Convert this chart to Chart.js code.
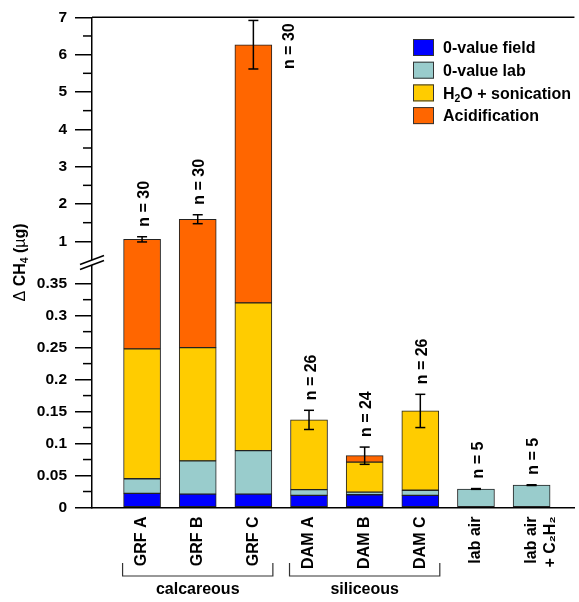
<!DOCTYPE html>
<html>
<head>
  <meta charset="utf-8" />
  <title>Δ CH4</title>
  <style>body { margin: 0; background: #fff; }</style>
</head>
<body>
  <canvas id="stage" width="579" height="602"></canvas>

  <script src="https://cdn.jsdelivr.net/npm/chart.js@4.4.0/dist/chart.umd.min.js"></script>
  <script>
    // 値 (µg) — 各区分の増分
    const categories = ['GRF A', 'GRF B', 'GRF C', 'DAM A', 'DAM B', 'DAM C', 'lab air', ['lab air', '+ C₂H₂']];
    const fieldVals = [0.022, 0.021, 0.021, 0.019, 0.020, 0.019, null, null];
    const labVals   = [0.023, 0.052, 0.068, 0.009, 0.004, 0.008, 0.029, 0.035];
    const h2oVals   = [0.203, 0.177, 0.231, 0.109, 0.047, 0.124, null, null];
    const acidVals  = [0.806, 1.343, 5.946, null, 0.010, null, null, null];
    const errVals   = [0.07, 0.12, 0.65, 0.015, 0.0135, 0.026, 0.0006, 0.0006];
    const nLabels   = ['n = 30', 'n = 30', 'n = 30', 'n = 26', 'n = 24', 'n = 26', 'n = 5', 'n = 5'];
    const groups    = [{ label: 'calcareous', from: 0, to: 2 }, { label: 'siliceous', from: 3, to: 5 }];
    const majorTicks = [0, 0.05, 0.1, 0.15, 0.2, 0.25, 0.3, 0.35, 1, 2, 3, 4, 5, 6, 7];
    const minorTicks = [0.025, 0.075, 0.125, 0.175, 0.225, 0.275, 0.325, 1.5, 2.5, 3.5, 4.5, 5.5, 6.5];
    const yTitle = 'Δ CH₄ (µg)';

    const FAMILY = '"Liberation Sans", Arial, sans-serif';
    const FS = 16;

    // 軸を途中で切った縦軸
    const LinearScale = Chart.LinearScale || Chart.registry.getScale('linear');
    class BrokenScale extends LinearScale {
      buildTicks() {
        return majorTicks.concat(minorTicks).sort((a, b) => a - b).map(v => ({ value: v }));
      }
      getPixelForValue(v) {
        if (v === null || isNaN(v)) return NaN;
        const bv = this.options.breakValue, bf = this.options.breakFrac;
        let d;
        if (v <= bv) d = (v - this.min) / (bv - this.min) * bf;
        else d = bf + (v - bv) / (this.max - bv) * (1 - bf);
        return this.getPixelForDecimal(d);
      }
      getValueForPixel(p) {
        const bv = this.options.breakValue, bf = this.options.breakFrac;
        const d = this.getDecimalForPixel(p);
        if (d <= bf) return this.min + d / bf * (bv - this.min);
        return bv + (d - bf) / (1 - bf) * (this.max - bv);
      }
    }
    BrokenScale.id = 'broken';
    BrokenScale.defaults = LinearScale.defaults;
    Chart.register(BrokenScale);

    // 下付き数字を小さく描く
    function drawRich(ctx, text, x, y, size, measureOnly) {
      let cx = x;
      for (const ch of text) {
        const code = ch.charCodeAt(0);
        const sub = code >= 0x2080 && code <= 0x2089;
        const c = sub ? String.fromCharCode(code - 0x2080 + 48) : ch;
        const thin = 'Δµ'.includes(ch);
        ctx.font = (thin ? '' : 'bold ') + (sub ? size * 0.65 : size) + 'px ' + FAMILY;
        if (!measureOnly) ctx.fillText(c, cx, sub ? y + size * 0.22 : y);
        cx += ctx.measureText(c).width;
      }
      return cx - x;
    }

    function line(ctx, x1, y1, x2, y2) {
      ctx.beginPath();
      ctx.moveTo(x1, y1);
      ctx.lineTo(x2, y2);
      ctx.stroke();
    }

    const decor = {
      id: 'decor',
      afterDraw(chart) {
        const { ctx, chartArea: a, scales: { x, y } } = chart;
        const sets = chart.data.datasets;
        ctx.save();
        ctx.strokeStyle = '#000';
        ctx.fillStyle = '#000';
        ctx.lineWidth = 1.5;

        // 上枠
        line(ctx, a.left, a.top, a.right, a.top);

        // 補助目盛
        minorTicks.forEach(v => {
          const py = y.getPixelForValue(v);
          line(ctx, a.left - 9, py, a.left, py);
        });

        // 軸の切れ目
        const cy = y.getPixelForValue(y.options.breakValue) - 2;
        ctx.fillStyle = '#fff';
        ctx.fillRect(a.left - 2, cy - 2.5, 4, 5);
        ctx.fillStyle = '#000';
        [-2.5, 2.5].forEach(o => line(ctx, a.left - 12, cy + o + 4.5, a.left + 12, cy + o - 4.5));

        // 誤差棒と n
        const bw = chart.getDatasetMeta(1).data[0].width;
        categories.forEach((c, i) => {
          const total = sets.reduce((s, d) => s + (d.data[i].y || 0), 0);
          const px = x.getPixelForValue(i);
          const hi = y.getPixelForValue(total + errVals[i]);
          const lo = y.getPixelForValue(total - errVals[i]);
          line(ctx, px, hi, px, lo);
          line(ctx, px - 5, hi, px + 5, hi);
          line(ctx, px - 5, lo, px + 5, lo);

          const tw = drawRich(ctx, nLabels[i], 0, 0, FS, true);
          let lx = px + 1, start = hi - 10;
          if (start - tw < a.top + 4) {
            lx = px + bw / 2 + 16;
            start = a.top + 6 + tw;
          }
          ctx.save();
          ctx.translate(lx, start);
          ctx.rotate(-Math.PI / 2);
          ctx.textBaseline = 'alphabetic';
          drawRich(ctx, nLabels[i], 0, 5.7, FS);
          ctx.restore();
        });

        // 凡例
        sets.forEach((d, k) => {
          const cyL = 47.5 + k * 22.7;
          ctx.fillStyle = d.backgroundColor;
          ctx.fillRect(413, cyL - 8.5, 21, 17);
          ctx.lineWidth = 1;
          ctx.strokeStyle = '#333';
          ctx.strokeRect(413.5, cyL - 8, 20, 16);
          ctx.fillStyle = '#000';
          drawRich(ctx, d.label, 443, cyL + 5.7, FS);
        });

        // 縦軸タイトル
        ctx.save();
        const tw = drawRich(ctx, yTitle, 0, 0, FS, true);
        ctx.translate(19, (a.top + a.bottom) / 2);
        ctx.rotate(-Math.PI / 2);
        drawRich(ctx, yTitle, -tw / 2, 5.7, FS);
        ctx.restore();

        // グループの括弧
        ctx.strokeStyle = '#333';
        ctx.lineWidth = 1.2;
        groups.forEach(g => {
          const l = x.getPixelForValue(g.from) - bw / 2 - 1;
          const r = x.getPixelForValue(g.to) + bw / 2 + 1;
          ctx.beginPath();
          ctx.moveTo(l, 563);
          ctx.lineTo(l, 576);
          ctx.lineTo(r, 576);
          ctx.lineTo(r, 563);
          ctx.stroke();
          ctx.font = 'bold ' + FS + 'px ' + FAMILY;
          ctx.textAlign = 'center';
          ctx.fillStyle = '#000';
          ctx.fillText(g.label, (l + r) / 2, 594);
          ctx.textAlign = 'left';
        });
        ctx.restore();
      }
    };

    const toXY = arr => arr.map((v, i) => ({ x: i, y: v }));
    const bar = { borderColor: '#222', borderWidth: 1, borderSkipped: false, barThickness: 37 };

    new Chart(document.getElementById('stage'), {
      type: 'bar',
      data: {
        datasets: [
          { label: '0-value field', data: toXY(fieldVals), backgroundColor: '#0000FF', ...bar },
          { label: '0-value lab', data: toXY(labVals), backgroundColor: '#99CCCC', ...bar },
          { label: 'H₂O + sonication', data: toXY(h2oVals), backgroundColor: '#FFCC00', ...bar },
          { label: 'Acidification', data: toXY(acidVals), backgroundColor: '#FF6600', ...bar },
        ]
      },
      options: {
        responsive: false,
        animation: false,
        layout: { padding: { top: 13.5, right: 0, left: 0, bottom: 0 } },
        plugins: { legend: { display: false }, tooltip: { enabled: false } },
        scales: {
          x: {
            type: 'linear', min: -0.9, max: 7.77, stacked: true, offset: false,
            grid: { display: false, drawTicks: false },
            border: { display: true, color: '#000', width: 1.5 },
            afterBuildTicks: s => { s.ticks = categories.map((c, i) => ({ value: i })); },
            afterFit: s => { s.height = 94.5; },
            ticks: {
              autoSkip: false, minRotation: 90, maxRotation: 90, padding: 9,
              color: '#000', font: { family: FAMILY, size: FS, weight: 'bold' },
              callback: v => categories[v]
            }
          },
          y: {
            type: 'broken', min: 0, max: 7, stacked: true,
            breakValue: 0.38, breakFrac: 0.4957,
            afterFit: s => { s.width = 92; },
            grid: {
              display: true, drawOnChartArea: false, drawTicks: true, tickLength: 17, lineWidth: 1.5,
              color: c => (c.tick && majorTicks.includes(c.tick.value)) ? '#000' : 'rgba(0,0,0,0)'
            },
            border: { display: true, color: '#000', width: 1.5 },
            ticks: {
              autoSkip: false, padding: 8, color: '#000', font: { family: FAMILY, size: 15.5, weight: 'bold' },
              callback: v => majorTicks.includes(v) ? String(v) : ''
            }
          }
        }
      },
      plugins: [decor]
    });
  </script>
</body>
</html>
